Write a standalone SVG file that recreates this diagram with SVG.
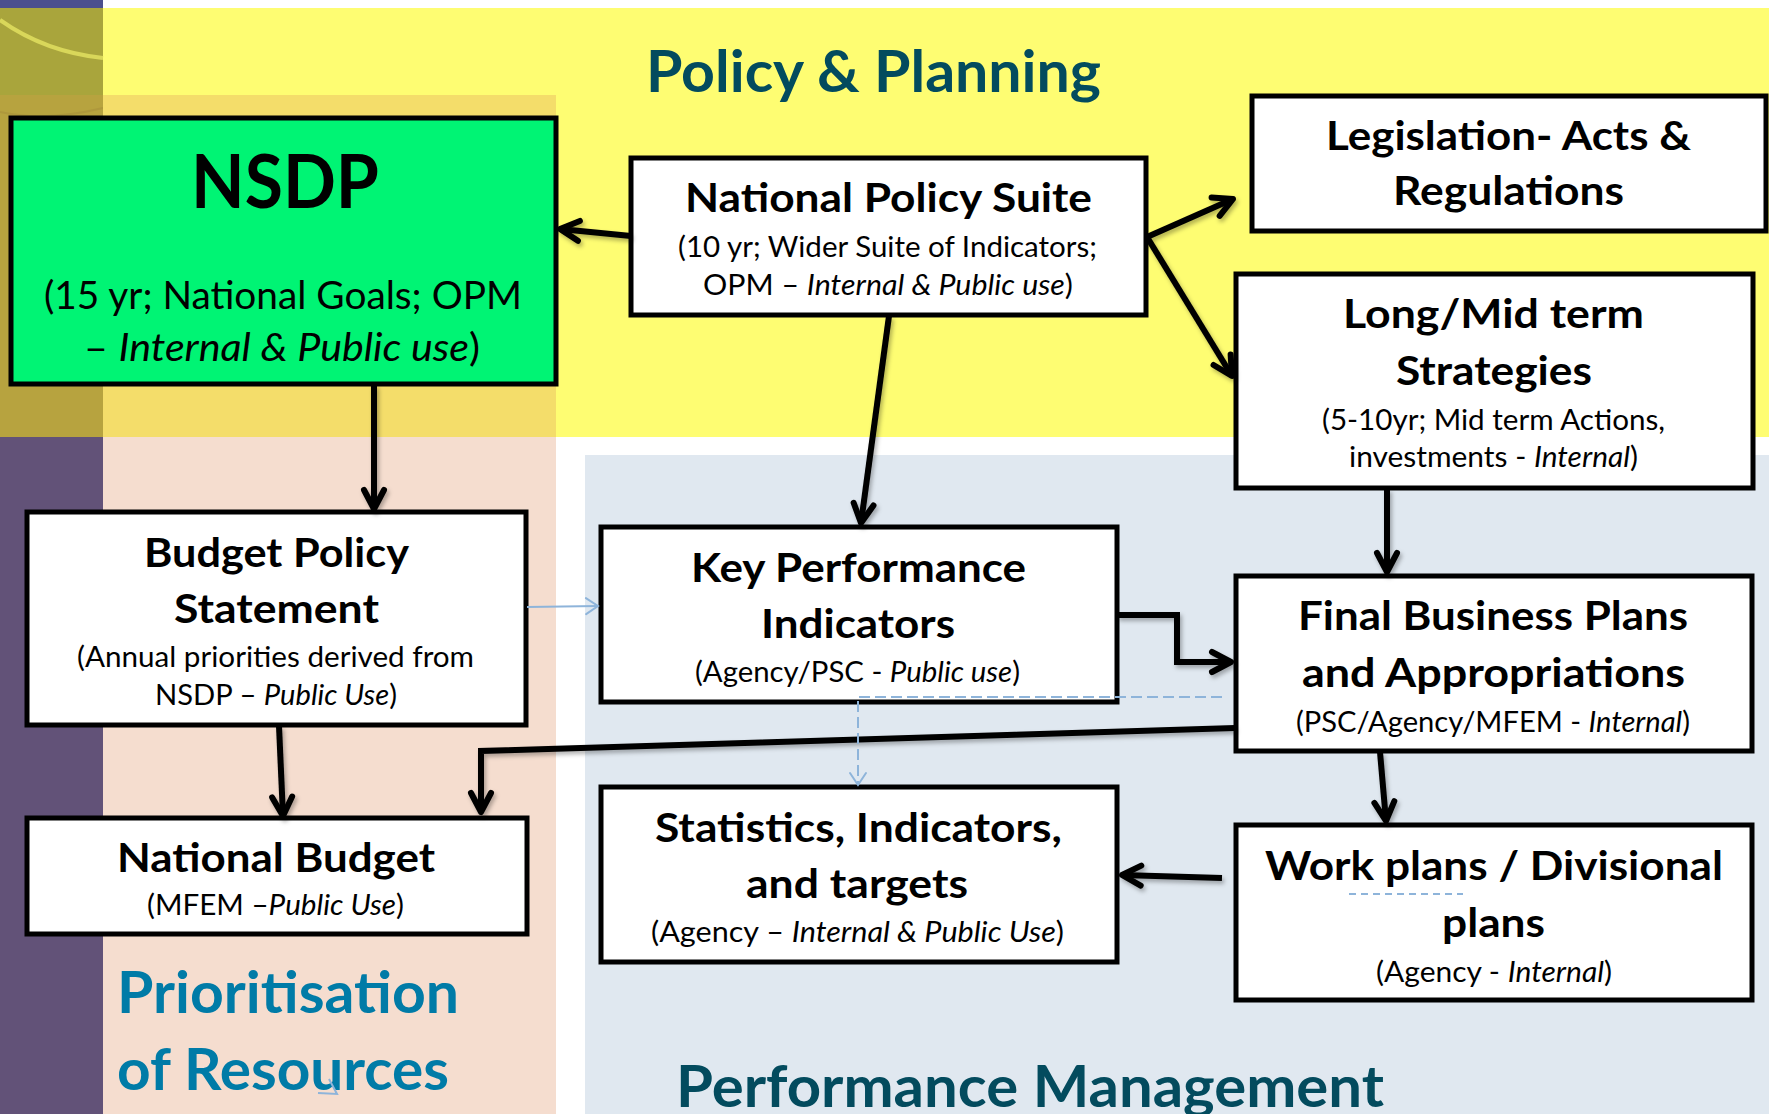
<svg xmlns="http://www.w3.org/2000/svg" width="1769" height="1114" viewBox="0 0 1769 1114">
<style>
text{font-family:Lato,"Open Sans","Liberation Sans",sans-serif;fill:#000;}
.t{font-weight:bold;font-size:40px;text-anchor:middle;}
.s{font-size:28.5px;text-anchor:middle;}
.i{font-style:italic;}
.box{fill:#fff;stroke:#000;stroke-width:5;}
.hd{font-weight:bold;font-size:57px;}
.ln{fill:none;stroke:#000;stroke-width:6;marker-end:url(#ah);}
.lb{fill:none;stroke:#8EB4DA;stroke-width:2;}
</style>
<defs>
<marker id="ah" markerUnits="userSpaceOnUse" markerWidth="40" markerHeight="40" viewBox="-20 -20 40 40" refX="0" refY="0" orient="auto" overflow="visible">
<path d="M-19,-10 L0,0 L-19,10" fill="none" stroke="#000" stroke-width="6" stroke-linecap="round" stroke-linejoin="round"/>
</marker>
<marker id="ahb" markerUnits="userSpaceOnUse" markerWidth="30" markerHeight="30" viewBox="-15 -15 30 30" refX="0" refY="0" orient="auto" overflow="visible">
<path d="M-12,-8 L0,0 L-12,8" fill="none" stroke="#8EB4DA" stroke-width="2" stroke-linecap="round"/>
</marker>
<filter id="sh" x="-10%" y="-10%" width="130%" height="130%">
<feDropShadow dx="2" dy="3" stdDeviation="2" flood-color="#000" flood-opacity="0.3"/>
</filter>
</defs>

<g id="background">
<rect x="0" y="0" width="1769" height="1114" fill="#fff"/>
<rect x="0" y="0" width="103" height="1114" fill="#625278"/>
<rect x="0" y="0" width="103" height="8" fill="#4B4F8D"/>
<rect x="103" y="8" width="1666" height="429" fill="#FEFD72"/>
<rect x="0" y="8" width="103" height="87" fill="#A9A53C"/>
<rect x="0" y="95" width="103" height="342" fill="#B7A33F"/>
<path d="M0,20 Q45,52 103,58" fill="none" stroke="#D9D75A" stroke-width="4"/>
<path d="M0,112 Q45,122 103,108" fill="none" stroke="#A8913A" stroke-width="2" opacity="0.6"/>
<rect x="103" y="95" width="453" height="342" fill="#F4DD6A"/>
<rect x="103" y="437" width="453" height="677" fill="#F5DDCF"/>
<rect x="585" y="455" width="1184" height="659" fill="#E0E8F0"/>
</g>

<g id="titles">
<text class="hd" x="873.5" y="92" text-anchor="middle" textLength="455" lengthAdjust="spacingAndGlyphs" style="fill:#034B5E">Policy &amp; Planning</text>
<text class="hd" x="117" y="1013" textLength="342" lengthAdjust="spacingAndGlyphs" style="fill:#007BA7">Prioritisation</text>
<text class="hd" x="117" y="1090" textLength="332" lengthAdjust="spacingAndGlyphs" style="fill:#007BA7">of Resources</text>
<text class="hd" x="676" y="1107" textLength="708" lengthAdjust="spacingAndGlyphs" style="fill:#034B5E">Performance Management</text>
</g>

<g id="node-nsdp">
<rect x="11" y="118" width="545" height="266" fill="#00F474" stroke="#000" stroke-width="5"/>
<text x="285" y="208" text-anchor="middle" font-weight="bold" font-size="74" textLength="188" lengthAdjust="spacingAndGlyphs">NSDP</text>
<text x="283" y="309" text-anchor="middle" font-size="38" textLength="478" lengthAdjust="spacingAndGlyphs">(15 yr; National Goals; OPM</text>
<text x="282" y="361" text-anchor="middle" font-size="38" textLength="396" lengthAdjust="spacingAndGlyphs">– <tspan class="i">Internal &amp; Public use</tspan>)</text>
</g>

<g id="node-nps">
<rect class="box" x="631" y="158" width="515" height="157"/>
<text class="t" x="888.5" y="212" textLength="407" lengthAdjust="spacingAndGlyphs">National Policy Suite</text>
<text class="s" x="887.5" y="257" textLength="419" lengthAdjust="spacingAndGlyphs">(10 yr; Wider Suite of Indicators;</text>
<text class="s" x="888" y="295" textLength="370" lengthAdjust="spacingAndGlyphs">OPM – <tspan class="i">Internal &amp; Public use</tspan>)</text>
</g>

<g id="node-legislation">
<rect class="box" x="1252" y="96" width="514" height="135"/>
<text class="t" x="1508.5" y="150" textLength="365" lengthAdjust="spacingAndGlyphs">Legislation- Acts &amp;</text>
<text class="t" x="1508.5" y="205" textLength="231" lengthAdjust="spacingAndGlyphs">Regulations</text>
</g>

<g id="node-strategies">
<rect class="box" x="1236" y="274" width="517" height="214"/>
<text class="t" x="1493.5" y="328" textLength="301" lengthAdjust="spacingAndGlyphs">Long/Mid term</text>
<text class="t" x="1494" y="385" textLength="196" lengthAdjust="spacingAndGlyphs">Strategies</text>
<text class="s" x="1493.5" y="430" textLength="343" lengthAdjust="spacingAndGlyphs">(5-10yr; Mid term Actions,</text>
<text class="s" x="1493.5" y="467" textLength="289" lengthAdjust="spacingAndGlyphs">investments - <tspan class="i">Internal</tspan>)</text>
</g>

<g id="node-bps">
<rect class="box" x="27" y="512" width="499" height="213"/>
<text class="t" x="276.5" y="567" textLength="265" lengthAdjust="spacingAndGlyphs">Budget Policy</text>
<text class="t" x="276.5" y="623" textLength="205" lengthAdjust="spacingAndGlyphs">Statement</text>
<text class="s" x="275.5" y="667" textLength="397" lengthAdjust="spacingAndGlyphs">(Annual priorities derived from</text>
<text class="s" x="276" y="705" textLength="242" lengthAdjust="spacingAndGlyphs">NSDP – <tspan class="i">Public Use</tspan>)</text>
</g>

<g id="node-budget">
<rect class="box" x="27" y="818" width="500" height="116"/>
<text class="t" x="276" y="872" textLength="318" lengthAdjust="spacingAndGlyphs">National Budget</text>
<text class="s" x="275.5" y="915" textLength="257" lengthAdjust="spacingAndGlyphs">(MFEM –<tspan class="i">Public Use</tspan>)</text>
</g>

<g id="node-kpi">
<rect class="box" x="601" y="527" width="516" height="175"/>
<text class="t" x="858.5" y="582" textLength="335" lengthAdjust="spacingAndGlyphs">Key Performance</text>
<text class="t" x="858" y="638" textLength="194" lengthAdjust="spacingAndGlyphs">Indicators</text>
<text class="s" x="857.5" y="682" textLength="325" lengthAdjust="spacingAndGlyphs">(Agency/PSC - <tspan class="i">Public use</tspan>)</text>
</g>

<g id="node-fbp">
<rect class="box" x="1236" y="576" width="516" height="175"/>
<text class="t" x="1493" y="630" textLength="390" lengthAdjust="spacingAndGlyphs">Final Business Plans</text>
<text class="t" x="1493.5" y="687" textLength="383" lengthAdjust="spacingAndGlyphs">and Appropriations</text>
<text class="s" x="1493" y="732" textLength="394" lengthAdjust="spacingAndGlyphs">(PSC/Agency/MFEM - <tspan class="i">Internal</tspan>)</text>
</g>

<g id="node-workplans">
<rect class="box" x="1236" y="825" width="516" height="175"/>
<text class="t" x="1494" y="880" textLength="458" lengthAdjust="spacingAndGlyphs">Work plans / Divisional</text>
<text class="t" x="1493.5" y="937" textLength="103" lengthAdjust="spacingAndGlyphs">plans</text>
<text class="s" x="1494" y="982" textLength="236" lengthAdjust="spacingAndGlyphs">(Agency - <tspan class="i">Internal</tspan>)</text>
<line x1="1349" y1="894" x2="1463" y2="894" stroke="#8EB4DA" stroke-width="2" stroke-dasharray="7,5"/>
</g>

<g id="node-statistics">
<rect class="box" x="601" y="787" width="516" height="175"/>
<text class="t" x="858.5" y="842" textLength="407" lengthAdjust="spacingAndGlyphs">Statistics, Indicators,</text>
<text class="t" x="857" y="898" textLength="222" lengthAdjust="spacingAndGlyphs">and targets</text>
<text class="s" x="857.5" y="942" textLength="413" lengthAdjust="spacingAndGlyphs">(Agency – <tspan class="i">Internal &amp; Public Use</tspan>)</text>
</g>

<g id="connectors">
<g filter="url(#sh)">
<path class="ln" d="M631,236 L560,229"/>
<path class="ln" d="M1147,237 L1233,199"/>
<path class="ln" d="M1147,237 L1232,376"/>
<path class="ln" d="M889,316 L861,523"/>
<path class="ln" d="M374,385 L374,509"/>
<path class="ln" d="M279,726 L283,816"/>
<path class="ln" d="M1235,728 L481,751 L481,812"/>
<path class="ln" d="M1117,615 L1177,615 L1177,662 L1231,662"/>
<path class="ln" d="M1387,489 L1387,572"/>
<path class="ln" d="M1380,752 L1386,821"/>
<path class="ln" d="M1222,878 L1122,875"/>
</g>
<path class="lb" d="M527,607 L598,606" marker-end="url(#ahb)"/>
<path class="lb" d="M1222,697 L858,697 L858,785" stroke-dasharray="11,5" marker-end="url(#ahb)"/>
<polyline class="lb" points="329,1079 337,1094 318,1093"/>
</g>
</svg>
